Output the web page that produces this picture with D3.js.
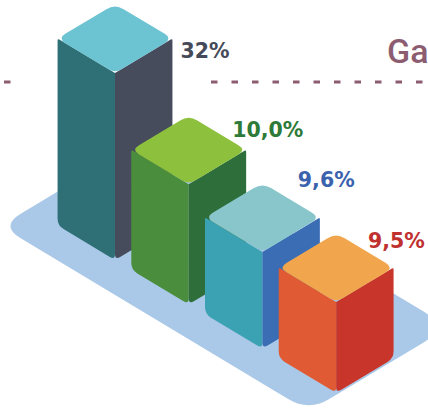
<!DOCTYPE html>
<html>
<head>
<meta charset="utf-8">
<script src="https://cdn.jsdelivr.net/npm/d3@7"></script>
<style>
  html, body { margin: 0; padding: 0; background: #ffffff; }
  svg { display: block; }
</style>
</head>
<body>
<svg id="chart" width="428" height="416"></svg>
<script>
// ---- data ----
const categories = ["A", "B", "C", "D"];
const values = [32, 10.0, 9.6, 9.5];
const valueLabels = ["32%", "10,0%", "9,6%", "9,5%"];
const titleText = "Ga";

// ---- palette ----
const topColors   = ["#6cc3d1", "#8dc03d", "#88c6cc", "#f1a64e"];
const leftColors  = ["#2f7077", "#4a8e3d", "#3aa2b2", "#e05a33"];
const rightColors = ["#474c5d", "#2e6e3b", "#3b6db4", "#c8362b"];
const labelColors = ["#454a58", "#2e7a38", "#3b63ad", "#c0302e"];

const W = 428, H = 416;
const svg = d3.select("#chart");

// isometric projection: a runs down-right, b runs up-right, h is vertical
const ang = 31 * Math.PI / 180;
const cs = Math.cos(ang), sn = Math.sin(ang);
const origin = [115, 260];
const iso = (a, b, h) => [origin[0] + (a + b) * cs, origin[1] + (a - b) * sn - h];

// position of each bar along the a-axis, and its vertical extent
const aScale = d3.scalePoint().domain(categories).range([0, 258]);
const hScale = d3.scaleLinear().domain([9.4, 10, 32]).range([85, 120, 187]);
const depth = 67;

// polygon with individually rounded corners
function roundedPath(pts, radii) {
  const n = pts.length;
  const p = d3.path();
  for (let i = 0; i < n; i++) {
    const P = pts[i], A = pts[(i - 1 + n) % n], B = pts[(i + 1) % n];
    const r = radii[i];
    const da = Math.hypot(A[0] - P[0], A[1] - P[1]);
    const db = Math.hypot(B[0] - P[0], B[1] - P[1]);
    const p1 = [P[0] + (A[0] - P[0]) * r / da, P[1] + (A[1] - P[1]) * r / da];
    const p2 = [P[0] + (B[0] - P[0]) * r / db, P[1] + (B[1] - P[1]) * r / db];
    if (i === 0) p.moveTo(p1[0], p1[1]); else p.lineTo(p1[0], p1[1]);
    p.quadraticCurveTo(P[0], P[1], p2[0], p2[1]);
  }
  p.closePath();
  return p.toString();
}

// ---- dashed guide line ----
const dashColor = "#8c5c70";
svg.append("line")
  .attr("x1", 4).attr("x2", 10.5).attr("y1", 82).attr("y2", 82)
  .attr("stroke", dashColor).attr("stroke-width", 3);
svg.append("line")
  .attr("x1", 211).attr("x2", 428).attr("y1", 82).attr("y2", 82)
  .attr("stroke", dashColor).attr("stroke-width", 3)
  .attr("stroke-dasharray", "6.5,14");

// ---- title ----
svg.append("text")
  .attr("x", 387).attr("y", 63)
  .attr("font-family", "Roboto, 'Liberation Sans', sans-serif")
  .attr("font-size", 34).attr("font-weight", 500)
  .attr("fill", dashColor)
  .text(titleText);

// ---- platform ----
const aMin = -100, aMax = 260, bMin = -34, bMax = 130;
const platform = [iso(aMin, bMin, 0), iso(aMin, bMax, 0), iso(aMax, bMax, 0), iso(aMax, bMin, 0)];
svg.append("path")
  .attr("d", roundedPath(platform, [24, 24, 30, 24]))
  .attr("fill", "#aac8e7");

// ---- bars ----
const bars = svg.append("g");
categories.forEach((cat, i) => {
  const a0 = aScale(cat);
  const h = hScale(values[i]);
  const g = bars.append("g");

  const leftFace = [iso(a0 - depth, 0, h), iso(a0, 0, h), iso(a0, 0, 0), iso(a0 - depth, 0, 0)];
  const rightFace = [iso(a0, 0, h), iso(a0, depth, h), iso(a0, depth, 0), iso(a0, 0, 0)];
  const topFace = [iso(a0 - depth, 0, h), iso(a0 - depth, depth, h), iso(a0, depth, h), iso(a0, 0, h)];

  g.append("path").attr("d", roundedPath(leftFace, [2, 0, 6, 7])).attr("fill", leftColors[i]);
  g.append("path").attr("d", roundedPath(rightFace, [0, 2, 7, 6])).attr("fill", rightColors[i]);
  g.append("path").attr("d", roundedPath(topFace, [9, 10, 9, 7])).attr("fill", topColors[i]);
});

// ---- value labels, anchored at the right corner of each bar top ----
const labelDx = [8, -14, -22, -24];
const labelDy = [19.5, -13, -30, -20];
svg.append("g").selectAll("text")
  .data(categories)
  .join("text")
  .attr("x", (d, i) => Math.min(iso(aScale(d), depth, hScale(values[i]))[0] + labelDx[i], W - 60))
  .attr("y", (d, i) => iso(aScale(d), depth, hScale(values[i]))[1] + labelDy[i])
  .attr("font-family", "'DejaVu Sans', sans-serif")
  .attr("font-weight", "bold")
  .attr("font-size", 20.5)
  .attr("fill", (d, i) => labelColors[i])
  .text((d, i) => valueLabels[i]);
</script>
</body>
</html>
